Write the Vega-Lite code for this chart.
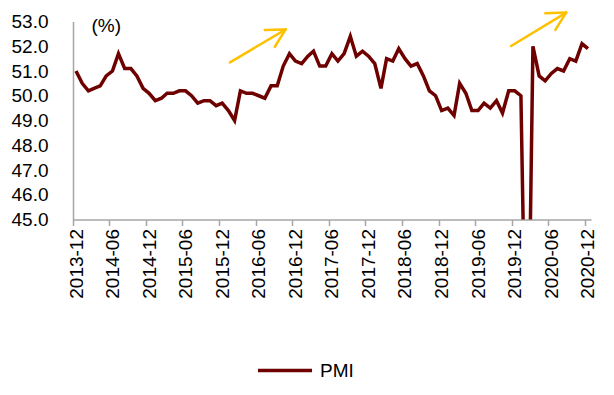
{
  "$schema": "https://vega.github.io/schema/vega-lite/v6.json",
  "autosize": "none",
  "padding": {"left": 73, "top": 21.5, "right": 23, "bottom": 175.5},
  "width": 518,
  "height": 198,
  "config": {
    "view": {"stroke": null},
    "font": "Liberation Sans",
    "axis": {"grid": false, "domainColor": "#A6A6A6", "domainWidth": 1.5, "tickColor": "#A6A6A6", "tickWidth": 1.5, "labelColor": "#000000", "labelFontSize": 19, "title": null, "labelOverlap": false, "labelFlush": false}
  },
  "layer": [
    {
      "data": {"values": [
        {"month": "2013-12-01", "value": 51.0},
        {"month": "2014-01-01", "value": 50.5},
        {"month": "2014-02-01", "value": 50.2},
        {"month": "2014-03-01", "value": 50.3},
        {"month": "2014-04-01", "value": 50.4},
        {"month": "2014-05-01", "value": 50.8},
        {"month": "2014-06-01", "value": 51.0},
        {"month": "2014-07-01", "value": 51.7},
        {"month": "2014-08-01", "value": 51.1},
        {"month": "2014-09-01", "value": 51.1},
        {"month": "2014-10-01", "value": 50.8},
        {"month": "2014-11-01", "value": 50.3},
        {"month": "2014-12-01", "value": 50.1},
        {"month": "2015-01-01", "value": 49.8},
        {"month": "2015-02-01", "value": 49.9},
        {"month": "2015-03-01", "value": 50.1},
        {"month": "2015-04-01", "value": 50.1},
        {"month": "2015-05-01", "value": 50.2},
        {"month": "2015-06-01", "value": 50.2},
        {"month": "2015-07-01", "value": 50.0},
        {"month": "2015-08-01", "value": 49.7},
        {"month": "2015-09-01", "value": 49.8},
        {"month": "2015-10-01", "value": 49.8},
        {"month": "2015-11-01", "value": 49.6},
        {"month": "2015-12-01", "value": 49.7},
        {"month": "2016-01-01", "value": 49.4},
        {"month": "2016-02-01", "value": 49.0},
        {"month": "2016-03-01", "value": 50.2},
        {"month": "2016-04-01", "value": 50.1},
        {"month": "2016-05-01", "value": 50.1},
        {"month": "2016-06-01", "value": 50.0},
        {"month": "2016-07-01", "value": 49.9},
        {"month": "2016-08-01", "value": 50.4},
        {"month": "2016-09-01", "value": 50.4},
        {"month": "2016-10-01", "value": 51.2},
        {"month": "2016-11-01", "value": 51.7},
        {"month": "2016-12-01", "value": 51.4},
        {"month": "2017-01-01", "value": 51.3},
        {"month": "2017-02-01", "value": 51.6},
        {"month": "2017-03-01", "value": 51.8},
        {"month": "2017-04-01", "value": 51.2},
        {"month": "2017-05-01", "value": 51.2},
        {"month": "2017-06-01", "value": 51.7},
        {"month": "2017-07-01", "value": 51.4},
        {"month": "2017-08-01", "value": 51.7},
        {"month": "2017-09-01", "value": 52.4},
        {"month": "2017-10-01", "value": 51.6},
        {"month": "2017-11-01", "value": 51.8},
        {"month": "2017-12-01", "value": 51.6},
        {"month": "2018-01-01", "value": 51.3},
        {"month": "2018-02-01", "value": 50.3},
        {"month": "2018-03-01", "value": 51.5},
        {"month": "2018-04-01", "value": 51.4},
        {"month": "2018-05-01", "value": 51.9},
        {"month": "2018-06-01", "value": 51.5},
        {"month": "2018-07-01", "value": 51.2},
        {"month": "2018-08-01", "value": 51.3},
        {"month": "2018-09-01", "value": 50.8},
        {"month": "2018-10-01", "value": 50.2},
        {"month": "2018-11-01", "value": 50.0},
        {"month": "2018-12-01", "value": 49.4},
        {"month": "2019-01-01", "value": 49.5},
        {"month": "2019-02-01", "value": 49.2},
        {"month": "2019-03-01", "value": 50.5},
        {"month": "2019-04-01", "value": 50.1},
        {"month": "2019-05-01", "value": 49.4},
        {"month": "2019-06-01", "value": 49.4},
        {"month": "2019-07-01", "value": 49.7},
        {"month": "2019-08-01", "value": 49.5},
        {"month": "2019-09-01", "value": 49.8},
        {"month": "2019-10-01", "value": 49.3},
        {"month": "2019-11-01", "value": 50.2},
        {"month": "2019-12-01", "value": 50.2},
        {"month": "2020-01-01", "value": 50.0},
        {"month": "2020-02-01", "value": 35.7},
        {"month": "2020-03-01", "value": 52.0},
        {"month": "2020-04-01", "value": 50.8},
        {"month": "2020-05-01", "value": 50.6},
        {"month": "2020-06-01", "value": 50.9},
        {"month": "2020-07-01", "value": 51.1},
        {"month": "2020-08-01", "value": 51.0},
        {"month": "2020-09-01", "value": 51.5},
        {"month": "2020-10-01", "value": 51.4},
        {"month": "2020-11-01", "value": 52.1},
        {"month": "2020-12-01", "value": 51.9}
      ]},
      "mark": {"type": "line", "clip": true, "strokeWidth": 3.5},
      "encoding": {
        "x": {
          "field": "month", "type": "temporal",
          "scale": {"type": "utc", "domain": [{"year": 2013, "month": 11, "date": 16, "utc": true}, {"year": 2020, "month": 12, "date": 16, "utc": true}]},
          "axis": {
            "format": "%Y-%m", "labelAngle": 270, "tickSize": 6, "labelPadding": 3, "tickOffset": -3.05, "labelOffset": 3.05,
            "labelOverlap": false, "tickCount": 15,
            "values": [
              {"year": 2013, "month": 12, "date": 1, "utc": true},
              {"year": 2014, "month": 6, "date": 1, "utc": true},
              {"year": 2014, "month": 12, "date": 1, "utc": true},
              {"year": 2015, "month": 6, "date": 1, "utc": true},
              {"year": 2015, "month": 12, "date": 1, "utc": true},
              {"year": 2016, "month": 6, "date": 1, "utc": true},
              {"year": 2016, "month": 12, "date": 1, "utc": true},
              {"year": 2017, "month": 6, "date": 1, "utc": true},
              {"year": 2017, "month": 12, "date": 1, "utc": true},
              {"year": 2018, "month": 6, "date": 1, "utc": true},
              {"year": 2018, "month": 12, "date": 1, "utc": true},
              {"year": 2019, "month": 6, "date": 1, "utc": true},
              {"year": 2019, "month": 12, "date": 1, "utc": true},
              {"year": 2020, "month": 6, "date": 1, "utc": true},
              {"year": 2020, "month": 12, "date": 1, "utc": true}
            ]
          }
        },
        "y": {
          "field": "value", "type": "quantitative",
          "scale": {"domain": [45, 53], "nice": false, "zero": false},
          "axis": {"values": [45, 46, 47, 48, 49, 50, 51, 52, 53], "format": ".1f", "tickSize": 0, "labelPadding": 25, "labelOverlap": false, "tickCount": 9}
        },
        "color": {
          "datum": "PMI",
          "scale": {"range": ["#6E0000"]},
          "legend": {"orient": "none", "legendX": 183, "legendY": 320, "title": null, "padding": 0, "symbolType": "stroke", "symbolSize": 2916, "symbolStrokeWidth": 3.5, "labelFontSize": 19, "labelColor": "#000000", "labelOffset": 6}
        }
      }
    },
    {
      "data": {"values": [
        {"x": "2016-01-09", "y": 51.35, "x2": "2016-10-13", "y2": 52.68},
        {"x": "2016-07-01", "y": 52.66, "x2": "2016-10-13", "y2": 52.68},
        {"x": "2016-08-20", "y": 51.98, "x2": "2016-10-13", "y2": 52.68},
        {"x": "2019-11-13", "y": 52.01, "x2": "2020-08-14", "y2": 53.36},
        {"x": "2020-05-02", "y": 53.33, "x2": "2020-08-14", "y2": 53.36},
        {"x": "2020-06-21", "y": 52.66, "x2": "2020-08-14", "y2": 53.36}
      ]},
      "mark": {"type": "rule", "color": "#FFC000", "strokeWidth": 2.5, "strokeCap": "round"},
      "encoding": {
        "x": {"field": "x", "type": "temporal"},
        "x2": {"field": "x2"},
        "y": {"field": "y", "type": "quantitative"},
        "y2": {"field": "y2"}
      }
    },
    {
      "data": {"values": [{"date": "2014-05-01", "value": 52.8, "label": "(%)"}]},
      "mark": {"type": "text", "fontSize": 19, "baseline": "middle", "align": "center", "color": "#000000"},
      "encoding": {
        "x": {"field": "date", "type": "temporal"},
        "y": {"field": "value", "type": "quantitative"},
        "text": {"field": "label"}
      }
    }
  ]
}
